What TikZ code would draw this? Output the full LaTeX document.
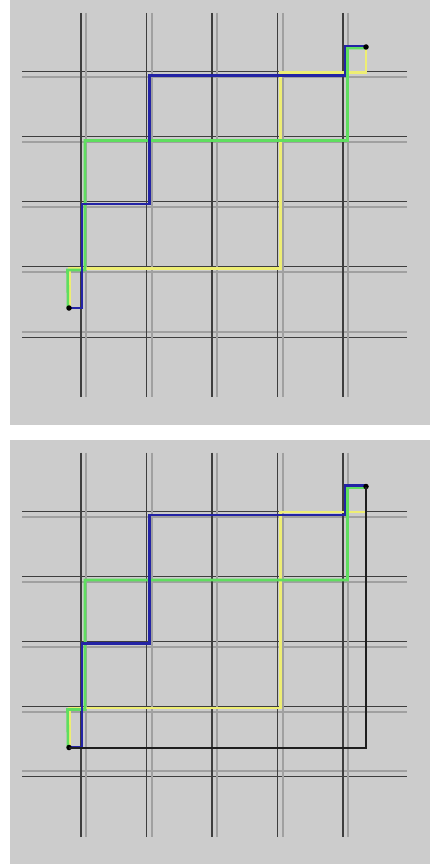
\documentclass[tikz,border=0pt]{standalone}
\usepackage{tikz}

\definecolor{panelgray}{RGB}{204,204,204}
\definecolor{streetdark}{RGB}{62,62,62}
\definecolor{streetlight}{RGB}{160,160,160}
\definecolor{routeblue}{RGB}{35,35,165}
\definecolor{routegreen}{RGB}{95,222,95}
\definecolor{routeyellow}{RGB}{238,238,115}
\definecolor{routeblack}{RGB}{30,30,30}

\begin{document}
\begin{tikzpicture}[x=1pt,y=-1pt,
    street/.style={line width=1.3pt,draw=streetdark},
    streetshade/.style={line width=2pt,draw=streetlight},
    route/.style={line width=2.6pt,line join=miter},
    stopdot/.style={circle,fill=black,inner sep=0pt,minimum size=5.5pt}]
  \useasboundingbox (0,0) rectangle (430,864);

  % Two panels: same map, the second one with the direct route
  \foreach \p/\dy in {1/0,2/439.5}{
    \begin{scope}[shift={(0,\dy)}]
      \fill[panelgray] (10,0) rectangle (430,424.5);

      % Streets (double lines)
      \foreach \k in {0,...,3}{
        \draw[streetshade] (22,{77+65*\k}) -- (407,{77+65*\k});
        \draw[street] (22,{71.7+65*\k}) -- (407,{71.7+65*\k});
      }
      \draw[streetshade] (22,331.7) -- (407,331.7);
      \draw[street] (22,337.3) -- (407,337.3);
      \foreach \k in {0,...,4}{
        \draw[streetshade] ({86+65.5*\k},13) -- ({86+65.5*\k},397);
        \draw[street] ({81+65.5*\k},13) -- ({81+65.5*\k},397);
      }

      % Start and goal
      \coordinate (start\p) at (69,308);
      \coordinate (goal\p) at (366,47);

      % Routes
      \draw[route,routeyellow] (start\p) ++(0.5,0) -- (69.5,268.5) -- (280.5,268.5)
        -- (280.5,72.5) -- (366,72.5) -- (goal\p);
      \draw[route,routegreen] (start\p) ++(-1,0) -- (67.5,270) -- (85,270)
        -- (85,140.5) -- (347.5,140.5) -- (347.5,48) -- (366,48);
      \draw[route,routeblue] (start\p) -- (82,308) -- (82,204) -- (149.5,204)
        -- (149.5,75.5) -- (345,75.5) -- (345,46) -- (366,46);

      \node[stopdot] (startdot\p) at (start\p) {};
      \node[stopdot] (goaldot\p) at (goal\p) {};
    \end{scope}
  }

  % Direct route
  \draw[line width=2pt,routeblack] (startdot2.center) -| (goaldot2.center);
\end{tikzpicture}
\end{document}
